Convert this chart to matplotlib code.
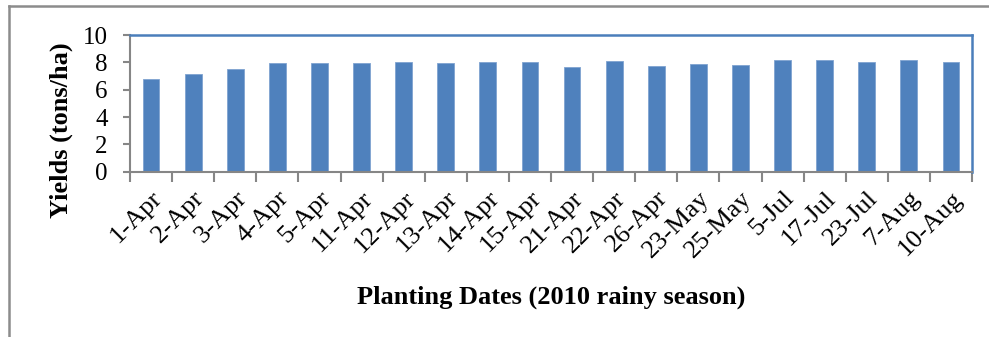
import matplotlib
matplotlib.use("Agg")
import matplotlib.pyplot as plt
from matplotlib.lines import Line2D
import numpy as np

# Planting dates and simulated yields (tons/ha), 2010 rainy season
planting_dates = ["1-Apr", "2-Apr", "3-Apr", "4-Apr", "5-Apr", "11-Apr", "12-Apr",
                  "13-Apr", "14-Apr", "15-Apr", "21-Apr", "22-Apr", "26-Apr",
                  "23-May", "25-May", "5-Jul", "17-Jul", "23-Jul", "7-Aug", "10-Aug"]
yields = [6.76, 7.15, 7.54, 7.93, 7.93, 7.98, 8.00, 7.98, 8.00, 8.00,
          7.63, 8.10, 7.73, 7.85, 7.80, 8.17, 8.15, 8.05, 8.15, 8.00]
y_ticks = [0, 2, 4, 6, 8, 10]

plt.rcParams['font.family'] = ['Liberation Serif', 'DejaVu Serif']

bar_color = "#4F81BD"
axis_gray = "#868686"

fig = plt.figure(figsize=(9.89, 3.37), dpi=100)
ax = fig.add_axes([130 / 989, 1 - 171.7 / 337, (972 - 130) / 989, (171.7 - 35) / 337])

x = np.arange(len(planting_dates))
ax.bar(x, yields, width=0.4, color=bar_color, edgecolor="#7fa3d0", linewidth=0.6, zorder=2)

ax.set_xlim(-0.5, len(planting_dates) - 0.5)
ax.set_ylim(0, 10)

# category boundaries carry the tick marks, centres carry the labels
ax.set_xticks(np.arange(len(planting_dates) + 1) - 0.5)
ax.set_xticklabels([])
ax.set_xticks(x, minor=True)
ax.set_xticklabels(planting_dates, minor=True, rotation=45, ha="right", va="top",
                   rotation_mode="anchor", fontsize=19)
ax.tick_params(axis="x", which="major", direction="out", length=7, width=1.5, color=axis_gray)
ax.tick_params(axis="x", which="minor", length=0, pad=11)

ax.set_yticks(y_ticks)
ax.set_yticklabels([str(v) for v in y_ticks], fontsize=18)
ax.tick_params(axis="y", direction="out", length=5, width=1.5, color=axis_gray, pad=11)

for side in ("left", "bottom"):
    ax.spines[side].set_color(axis_gray)
    ax.spines[side].set_linewidth(1.5)
for side in ("top", "right"):
    ax.spines[side].set_color("#4A7EBB")
    ax.spines[side].set_linewidth(1.8)

ax.set_ylabel("Yields (tons/ha)", fontsize=19, fontweight="bold")
ax.yaxis.set_label_coords(73 / 989, 1 - 130 / 337, transform=fig.transFigure)
fig.text(551 / 989, 1 - 297 / 337, "Planting Dates (2010 rainy season)",
         fontsize=19, fontweight="bold", ha="center", va="center")

# outer chart frame (top and left edges)
fig.add_artist(Line2D([8.5 / 989, 1.0], [1 - 6 / 337, 1 - 6 / 337],
                      transform=fig.transFigure, color="#8C8C8C", linewidth=1.8))
fig.add_artist(Line2D([8.5 / 989, 8.5 / 989], [1 - 6 / 337, 0.0],
                      transform=fig.transFigure, color="#8C8C8C", linewidth=1.8))

fig.savefig("out.png", dpi=100)
